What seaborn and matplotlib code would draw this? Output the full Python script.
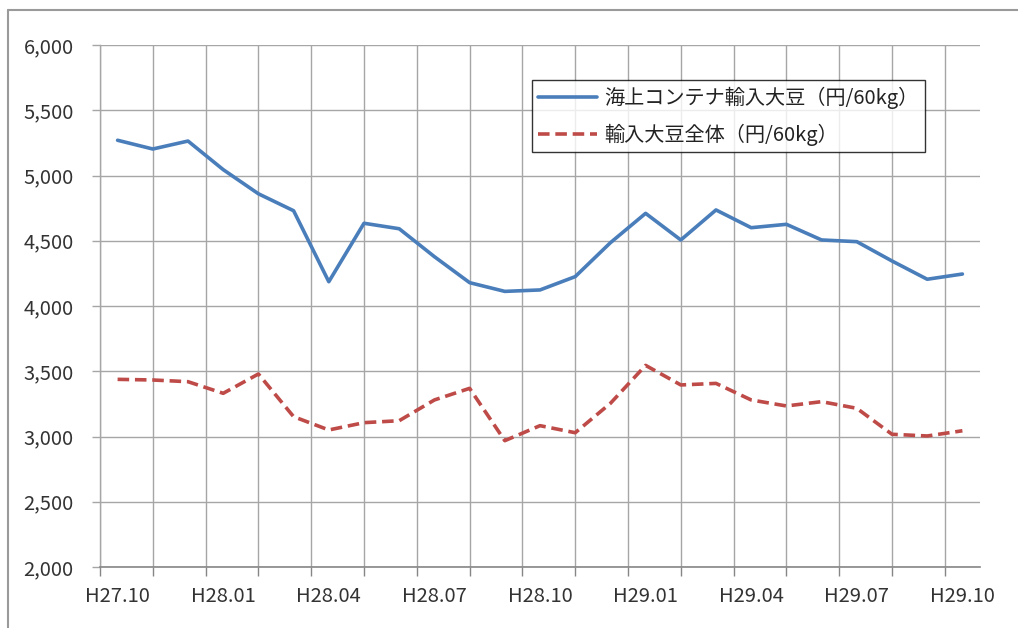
import matplotlib
matplotlib.use("Agg")
import matplotlib.pyplot as plt
import matplotlib.lines as mlines
import seaborn as sns
import pandas as pd
import numpy as np

# ---- data ----
months = ["H27.10", "H27.11", "H27.12", "H28.01", "H28.02", "H28.03", "H28.04",
          "H28.05", "H28.06", "H28.07", "H28.08", "H28.09", "H28.10", "H28.11",
          "H28.12", "H29.01", "H29.02", "H29.03", "H29.04", "H29.05", "H29.06",
          "H29.07", "H29.08", "H29.09", "H29.10"]
container_soy = [5270, 5203, 5264, 5045, 4860, 4730, 4186, 4634, 4592, 4378,
                 4179, 4112, 4123, 4225, 4485, 4710, 4506, 4736, 4600, 4626,
                 4506, 4493, 4345, 4205, 4245]
all_soy = [3438, 3433, 3420, 3331, 3479, 3152, 3050, 3106, 3121, 3280,
           3369, 2968, 3083, 3029, 3254, 3545, 3395, 3407, 3280, 3234,
           3267, 3216, 3017, 3004, 3044]
label_container = "海上コンテナ輸入大豆（円/60kg）"
label_all = "輸入大豆全体（円/60kg）"
yticks = [2000, 2500, 3000, 3500, 4000, 4500, 5000, 5500, 6000]
xtick_labels = months[::3]

df = pd.DataFrame({"idx": np.arange(len(months)),
                   "container": container_soy,
                   "all": all_soy})

sns.set_theme(style="white")
plt.rcParams['font.family'] = ['Noto Sans CJK JP', 'DejaVu Sans']

fig = plt.figure(figsize=(10.18, 6.28), dpi=100)
ax = fig.add_axes([100/1018, 1-567/628, 880/1018, 522/628])

blue = "#4A7EBB"
red = "#BE4B48"
sns.lineplot(data=df, x="idx", y="container", ax=ax, color=blue, lw=2.6,
             label=label_container)
sns.lineplot(data=df, x="idx", y="all", ax=ax, color=red, lw=2.6,
             label=label_all)
ax.lines[1].set_dashes((3.2, 1.6))

ax.set_xlim(-0.5, len(months) - 0.5)
ax.set_ylim(2000, 6000)
ax.set_yticks(yticks)
ax.set_yticklabels([f"{v:,}" for v in yticks])

grid_pos = [-0.5 + 1.5 * k for k in range(17)]
ax.set_xticks(grid_pos)
ax.set_xticklabels([""] * len(grid_pos))
ax.set_xticks(list(range(0, len(months), 3)), minor=True)
ax.set_xticklabels(xtick_labels, minor=True)

gcol = "#a6a6a6"
ax.grid(True, which="major", color=gcol, lw=1.0)
ax.set_axisbelow(True)
for s in ["top", "right"]:
    ax.spines[s].set_visible(False)
ax.spines["left"].set_color(gcol)
ax.spines["bottom"].set_color("#868686")
ax.spines["left"].set_linewidth(1.0)
ax.spines["bottom"].set_linewidth(1.2)

ax.tick_params(axis="y", which="major", length=6, width=1, color=gcol,
               labelsize=14.5, pad=13, labelcolor="#333333", left=True)
ax.tick_params(axis="x", which="major", length=6.5, width=1, color="#868686",
               bottom=True)
ax.tick_params(axis="x", which="minor", length=0, labelsize=14.5, pad=14,
               labelcolor="#333333", bottom=True)
ax.set_xlabel("")
ax.set_ylabel("")

leg = ax.legend(loc="upper left", bbox_to_anchor=((532-100)/880, (567-80)/522),
                borderaxespad=0, frameon=True, fancybox=False, fontsize=14.5,
                handlelength=2.9, handletextpad=0.35, labelspacing=0.75,
                borderpad=0.32)
leg.get_frame().set_edgecolor("#000000")
leg.get_frame().set_linewidth(1.0)
for t in leg.get_texts():
    t.set_color("#222222")

# outer chart border (cropped on right/bottom)
fig.add_artist(mlines.Line2D([8/1018, 8/1018], [0, 1-10/628], color="#9a9a9a",
                             lw=1.5, transform=fig.transFigure))
fig.add_artist(mlines.Line2D([8/1018, 1], [1-10/628, 1-10/628], color="#9a9a9a",
                             lw=1.5, transform=fig.transFigure))

fig.savefig("out.png", dpi=100)
